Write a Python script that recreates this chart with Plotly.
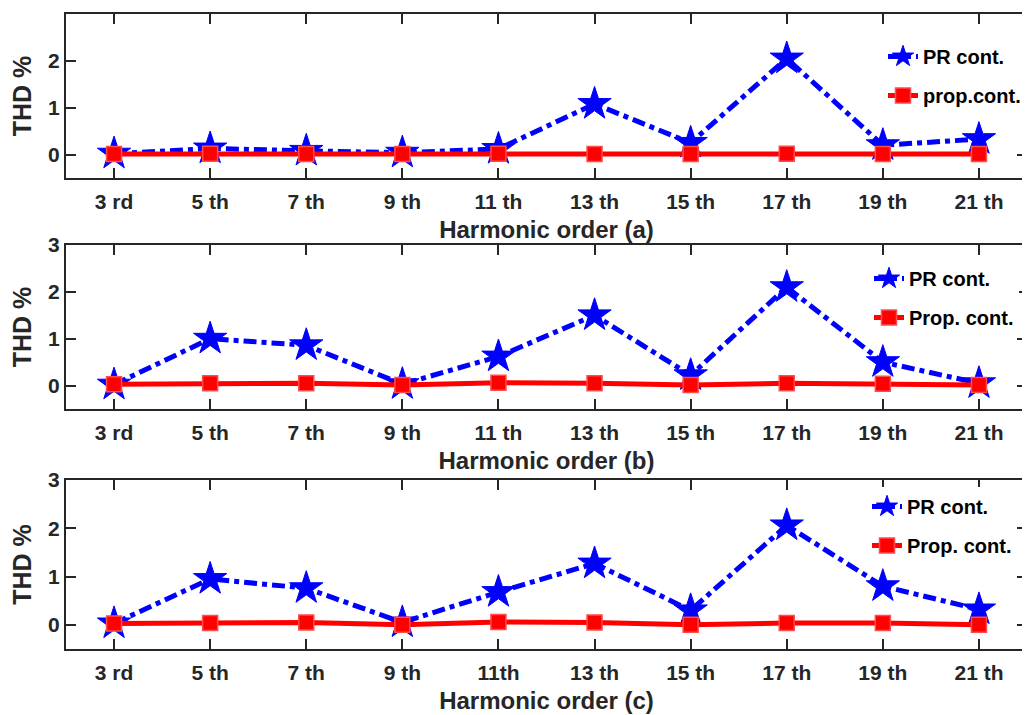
import plotly.graph_objects as go

ticks_a = ["3 rd", "5 th", "7 th", "9 th", "11 th", "13 th", "15 th", "17 th", "19 th", "21 th"]
ticks_b = ["3 rd", "5 th", "7 th", "9 th", "11 th", "13 th", "15 th", "17 th", "19 th", "21 th"]
ticks_c = ["3 rd", "5 th", "7 th", "9 th", "11th", "13 th", "15 th", "17 th", "19 th", "21 th"]

pr_a = [0.02, 0.13, 0.08, 0.04, 0.12, 1.08, 0.25, 2.05, 0.20, 0.33]
prop_a = [0.01, 0.02, 0.01, 0.01, 0.02, 0.01, 0.01, 0.02, 0.01, 0.01]

pr_b = [0.02, 1.00, 0.86, 0.03, 0.62, 1.50, 0.22, 2.10, 0.50, 0.05]
prop_b = [0.03, 0.05, 0.05, 0.01, 0.06, 0.05, 0.01, 0.05, 0.04, 0.01]

pr_c = [0.03, 0.95, 0.76, 0.05, 0.68, 1.27, 0.30, 2.06, 0.80, 0.32]
prop_c = [0.03, 0.04, 0.05, 0.00, 0.06, 0.05, 0.00, 0.04, 0.04, 0.00]

panels = [
    (ticks_a, pr_a, prop_a, "PR cont.", "prop.cont.", "Harmonic order (a)"),
    (ticks_b, pr_b, prop_b, "PR cont.", "Prop. cont.", "Harmonic order (b)"),
    (ticks_c, pr_c, prop_c, "PR cont.", "Prop. cont.", "Harmonic order (c)"),
]

# page body has an 8px margin, so the figure is sized/offset accordingly
W, H = 1022, 707
ml, mr, mt, mb = 58, 3, 6, 66
ph = H - mt - mb
pw = W - ml - mr
boxes = [(6, 170), (237, 401), (472, 641)]
legend_left = [875, 861, 859]
legend_top_off = [23, 14, 7]

def frac(y):
    return (H - mb - y) / ph

fig = go.Figure()
TXT = "#262626"
FONT = "Liberation Sans, Arial, sans-serif"

for i, (tk, pr, prop, n1, n2, title) in enumerate(panels):
    k = "" if i == 0 else str(i + 1)
    leg = "legend" if i == 0 else f"legend{i+1}"
    xs = list(range(len(tk)))
    fig.add_trace(go.Scatter(
        x=xs, y=pr, name=n1, mode="lines+markers",
        xaxis="x" + k, yaxis="y" + k, legend=leg, legendgroup=f"g{i}a",
        line=dict(color="#0000ff", width=5, dash="13px,5px,5px,5px"),
        marker=dict(symbol="star", size=25, color="#0000ff", line=dict(color="#0000ff", width=1)),
    ))
    fig.add_trace(go.Scatter(
        x=xs, y=prop, name=n2, mode="lines+markers",
        xaxis="x" + k, yaxis="y" + k, legend=leg, legendgroup=f"g{i}b",
        line=dict(color="#ff0000", width=5),
        marker=dict(symbol="square", size=15, color="#ff0000", line=dict(color="#ff4d4d", width=1.5)),
    ))
    top, bot = boxes[i]
    dom = [frac(bot), frac(top)]
    axcommon = dict(showline=True, linewidth=2, linecolor=TXT, mirror="ticks",
                    ticks="inside", ticklen=10, tickwidth=2, tickcolor=TXT,
                    showgrid=False, zeroline=False,
                    tickfont=dict(family=FONT, size=21, color=TXT, weight="bold"))
    fig.layout["xaxis" + k] = dict(
        domain=[0, 1], anchor="y" + k, range=[-0.5, 9.5],
        tickmode="array", tickvals=xs, ticktext=tk, ticklabelstandoff=4,
        title=dict(text=title, standoff=9, font=dict(family=FONT, size=24, color=TXT, weight="bold")),
        **axcommon)
    fig.layout["yaxis" + k] = dict(
        domain=dom, anchor="x" + k, range=[-0.5, 3],
        tickmode="array", tickvals=[0, 1, 2, 3],
        title=dict(text="THD %", standoff=13, font=dict(family=FONT, size=25, color=TXT, weight="bold")),
        **axcommon)
    fig.layout[leg] = dict(
        x=(legend_left[i] - ml) / pw, y=frac(top + legend_top_off[i]),
        xanchor="left", yanchor="top",
        bgcolor="white", borderwidth=0, tracegroupgap=10,
        font=dict(family=FONT, size=20, color="black", weight="bold"),
    )

fig.update_layout(
    width=W, height=H, margin=dict(l=ml, r=mr, t=mt, b=mb, autoexpand=False),
    paper_bgcolor="white", plot_bgcolor="white", showlegend=True,
)

fig.write_html("out.html")
